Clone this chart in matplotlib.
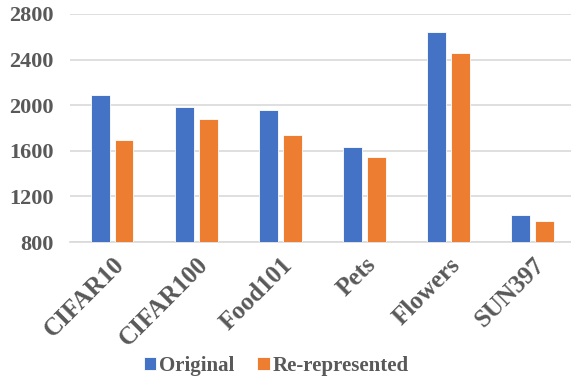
import numpy as np
import matplotlib.pyplot as plt

plt.rcParams['font.family'] = ['Liberation Serif', 'DejaVu Serif']
plt.rcParams['font.weight'] = 'bold'

datasets = ['CIFAR10', 'CIFAR100', 'Food101', 'Pets', 'Flowers', 'SUN397']
original = [2088, 1988, 1958, 1630, 2640, 1035]
rerepresented = [1698, 1880, 1740, 1545, 2458, 988]

BLUE = '#4472C4'
ORANGE = '#ED7D31'
TEXT = '#595959'
GRID = '#D9D9D9'

fig = plt.figure(figsize=(5.71, 3.76), dpi=100)
ax = fig.add_axes([0.1226, 0.356, 0.884, 0.607])

x = np.arange(len(datasets))
w = 0.225
ax.bar(x - 0.142, original, width=w, color=BLUE, edgecolor='white', linewidth=0.6,
       label='Original', zorder=3)
ax.bar(x + 0.142, rerepresented, width=w, color=ORANGE, edgecolor='white', linewidth=0.6,
       label='Re-represented', zorder=3)

ax.set_ylim(800, 2800)
ax.set_yticks(range(800, 2801, 400))
ax.set_xlim(-0.5, len(datasets) - 0.5)
ax.yaxis.grid(True, color=GRID, linewidth=1.2, zorder=0)
ax.set_axisbelow(True)

for s in ['top', 'right', 'left']:
    ax.spines[s].set_visible(False)
ax.spines['bottom'].set_color(GRID)
ax.spines['bottom'].set_linewidth(1.2)

ax.tick_params(axis='both', length=0, colors=TEXT, labelsize=16)
ax.tick_params(axis='y', pad=12)
ax.tick_params(axis='x', pad=8)
ax.set_xticks(x)
ax.set_xticklabels(datasets, rotation=45, ha='right', rotation_mode='anchor',
                   fontsize=18, fontweight='bold')

leg = fig.legend(loc='lower center', bbox_to_anchor=(0.484, -0.05), ncol=2, frameon=False,
                 fontsize=15, handlelength=0.6, handleheight=0.6, handletextpad=0.15,
                 columnspacing=1.1)
for t in leg.get_texts():
    t.set_color(TEXT)

fig.savefig('out.png', dpi=100)
